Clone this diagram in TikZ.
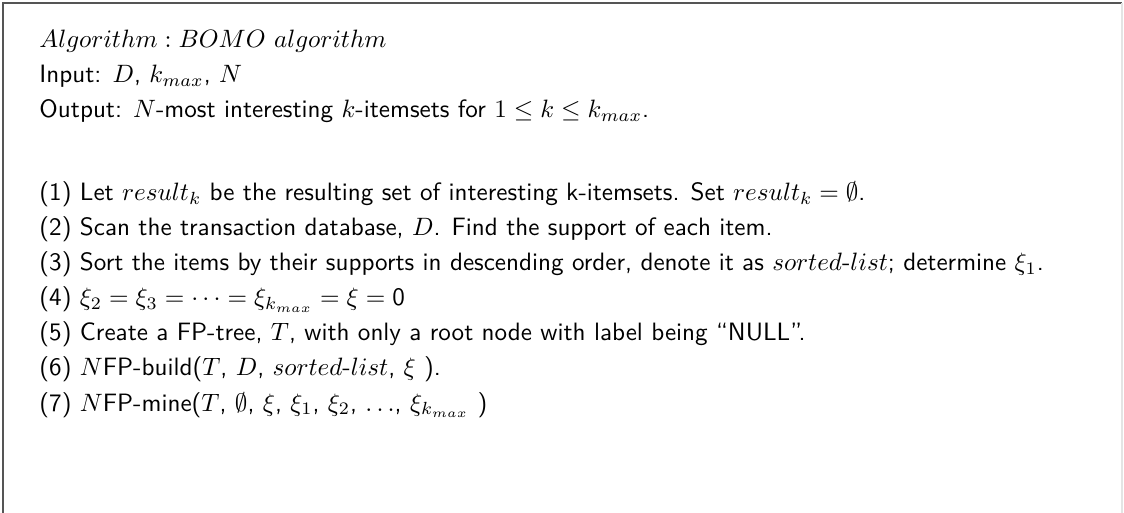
\documentclass[tikz,border=0pt]{standalone}
\usepackage{fix-cm}
\usepackage{amsmath,amssymb}
\usepackage{xcolor}
\usepackage{tikz}
\definecolor{frame}{HTML}{555555}
\definecolor{faint}{HTML}{E4E4E4}
\definecolor{ink}{HTML}{000000}
\tikzset{
  box/.style={draw=frame, line width=0.8pt},
  edge/.style={draw=faint, line width=0.5pt},
  row/.style={anchor=base west, inner sep=0pt, text=ink, font=\sffamily\fontsize{10.55}{13}\selectfont},
}

\begin{document}
\begin{tikzpicture}[x=0.42pt, y=0.42pt]
  \useasboundingbox (0,0) rectangle (1124,-513);
  \def\lx{39}
  % frame
  \draw[box] (3,-513) -- (3,-3) -- (1122,-3);
  \draw[edge] (1122,-3) -- (1122,-513);
  % header
  \node[row] (title)  at (\lx,-48)  {$Algorithm : BOMO\ algorithm$};
  \node[row] (input)  at (\lx,-83)  {Input: $D$, $k_{max}$, $N$};
  \node[row] (output) at (\lx,-118) {Output: $N$-most interesting $k$-itemsets for $1 \le k \le k_{max}$.};
  % steps
  \node[row] (s1) at (\lx,-201) {(1) Let $result_k$ be the resulting set of interesting k-itemsets. Set $result_k = \emptyset$.};
  \node[row] (s2) at (\lx,-236) {(2) Scan the transaction database, $D$. Find the support of each item.};
  \node[row] (s3) at (\lx,-271) {(3) Sort the items by their supports in descending order, denote it as $sorted\mbox{-}list$; determine $\xi_1$.};
  \node[row] (s4) at (\lx,-306) {(4) $\xi_2 = \xi_3 = \cdots = \xi_{k_{max}} = \xi = \mbox{0}$};
  \node[row] (s5) at (\lx,-341) {(5) Create a FP-tree, $T$, with only a root node with label being ``NULL''.};
  \node[row] (s6) at (\lx,-376) {(6) $N$FP-build($T$, $D$, $sorted\mbox{-}list$, $\xi$ ).};
  \node[row] (s7) at (\lx,-411) {(7) $N$FP-mine($T$, $\emptyset$, $\xi$, $\xi_1$, $\xi_2$, $\ldots$, $\xi_{k_{max}}$ )};
\end{tikzpicture}
\end{document}
